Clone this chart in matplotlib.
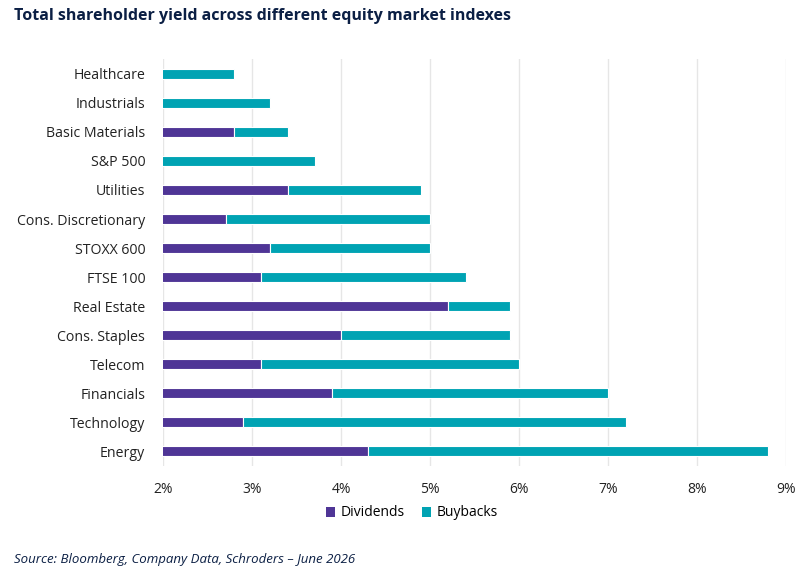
import matplotlib
matplotlib.use("Agg")
import matplotlib.pyplot as plt
from matplotlib.ticker import FuncFormatter
from matplotlib.patches import Patch

categories = ["Healthcare", "Industrials", "Basic Materials", "S&P 500", "Utilities",
              "Cons. Discretionary", "STOXX 600", "FTSE 100", "Real Estate",
              "Cons. Staples", "Telecom", "Financials", "Technology", "Energy"]
dividends = [1.7, 1.6, 2.8, 1.3, 3.4, 2.7, 3.2, 3.1, 5.2, 4.0, 3.1, 3.9, 2.9, 4.3]
buybacks = [1.1, 1.6, 0.6, 2.4, 1.5, 2.3, 1.8, 2.3, 0.7, 1.9, 2.9, 3.1, 4.3, 4.5]
x_ticks = [2, 3, 4, 5, 6, 7, 8, 9]

plt.rcParams['font.family'] = ['Open Sans', 'DejaVu Sans']

purple = "#4F3596"
teal = "#00A3B3"
navy = "#0B1F44"

fig = plt.figure(figsize=(8.08, 5.77), dpi=100)
ax = fig.add_axes([0.202, 0.193, 0.771, 0.704])

y = list(range(len(categories)))
h = 0.36
ax.barh(y, dividends, height=h, color=purple, edgecolor="white", linewidth=0.8, zorder=3)
ax.barh(y, buybacks, left=dividends, height=h, color=teal, edgecolor="white", linewidth=0.8, zorder=3)

ax.set_xlim(2, 9)
ax.set_ylim(len(categories) - 0.5, -0.5)
ax.set_yticks(y)
ax.set_yticklabels(categories, fontsize=10.2, color="#222222")
ax.set_xticks(x_ticks)
ax.xaxis.set_major_formatter(FuncFormatter(lambda v, p: f"{v:.0f}%"))
ax.tick_params(axis='x', labelsize=10, colors="#222222", length=0, pad=12)
ax.tick_params(axis='y', length=0, pad=13)
for s in ax.spines.values():
    s.set_visible(False)
ax.grid(axis='x', color="#E6E6E6", linewidth=1, zorder=0)
ax.set_axisbelow(True)

handles = [Patch(facecolor=purple, label="Dividends"), Patch(facecolor=teal, label="Buybacks")]
fig.legend(handles=handles, loc='center', bbox_to_anchor=(412/808, 1 - 513/577), ncol=2,
           frameon=False, fontsize=10, handlelength=0.7, handleheight=0.7,
           handletextpad=0.4, columnspacing=1.2)

fig.text(14/808, 1 - 16/577, "Total shareholder yield across different equity market indexes",
         fontsize=11.5, fontweight='bold', color=navy, va='center', ha='left')
fig.text(14/808, 1 - 559/577, "Source: Bloomberg, Company Data, Schroders – June 2026",
         fontsize=9.5, style='italic', color=navy, va='center', ha='left')

fig.savefig("out.png", dpi=100)
